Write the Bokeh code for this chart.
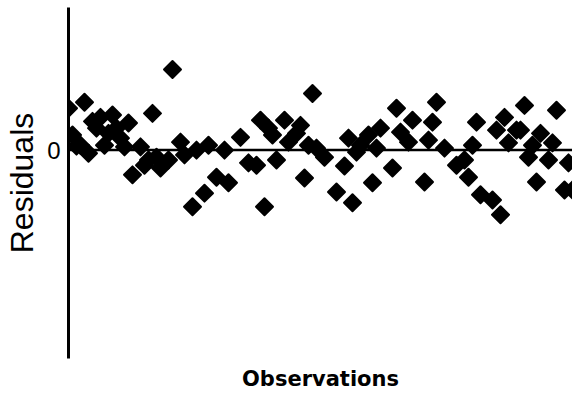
import math
from bokeh.plotting import figure
from bokeh.models import Span, FixedTicker, Range1d, ColumnDataSource
from bokeh.embed import file_html
from bokeh.resources import INLINE

observation = [1, 2, 3, 4, 5, 6, 7, 8, 9, 10, 11, 12, 13, 14, 15, 16, 17, 19, 20, 21, 22, 23,
               24, 26, 27, 29, 30, 32, 33, 35, 36, 38, 40, 41, 44, 46, 48, 49, 50, 51, 52, 53, 55,
               56, 58, 59, 60, 61, 62, 63, 65, 68, 70, 71, 72, 73, 74, 76, 77, 78, 79, 82, 83,
               84, 86, 87, 90, 91, 92, 93, 95, 98, 100, 101, 102, 103, 104, 107, 108, 109, 110, 111, 113,
               114, 115, 116, 117, 118, 119, 121, 122, 123, 125, 126, 127]
residual = [1.05, 0.38, 0.10, 0.12, 1.20, -0.08, 0.72, 0.55, 0.82, 0.12, 0.42, 0.88, 0.55, 0.30, 0.08, 0.68, -0.62, 0.08, -0.38, -0.25, 0.92, -0.18,
            -0.45, -0.25, 2.02, 0.20, -0.12, -1.42, 0.00, -1.08, 0.12, -0.68, 0.00, -0.82, 0.32, -0.32, -0.38, 0.75, -1.42, 0.55, 0.38, -0.25, 0.75,
            0.20, 0.42, 0.62, -0.70, 0.12, 1.42, 0.05, -0.18, -1.05, -0.40, 0.30, -1.32, -0.05, 0.12, 0.38, -0.82, 0.05, 0.55, -0.45, 1.05,
            0.45, 0.20, 0.75, -0.80, 0.25, 0.70, 1.20, 0.05, -0.38, -0.25, -0.68, 0.12, 0.70, -1.12, -1.25, 0.50, -1.62, 0.82, 0.18, 0.50,
            0.50, 1.12, -0.18, 0.12, -0.80, 0.42, -0.25, 0.18, 1.00, -1.00, -0.32, -1.00]
y_ticks = [0]
y_tick_labels = {0: "0"}
x_title = "Observations"
y_title = "Residuals"

src = ColumnDataSource(dict(x=observation, y=residual))

p = figure(width=572, height=393, output_backend="svg", toolbar_location=None,
           x_range=Range1d(1.0, 127.0), y_range=Range1d(-5.225, 3.575),
           min_border_left=68, min_border_right=0, min_border_top=7, min_border_bottom=34)
p.outline_line_color = None
p.xgrid.visible = False
p.ygrid.visible = False

xa = p.xaxis[0]
xa.ticker = FixedTicker(ticks=[])
xa.axis_line_color = None
xa.major_tick_line_color = None
xa.minor_tick_line_color = None
xa.major_tick_out = 0
xa.major_tick_in = 0
xa.major_label_standoff = 0
xa.axis_label = x_title
xa.axis_label_standoff = 8
xa.axis_label_text_font = "DejaVu Sans"
xa.axis_label_text_font_style = "bold"
xa.axis_label_text_font_size = "21px"
xa.axis_label_text_color = "black"

ya = p.yaxis[0]
ya.ticker = FixedTicker(ticks=y_ticks)
ya.major_label_overrides = y_tick_labels
ya.axis_line_width = 3
ya.axis_line_color = "black"
ya.major_tick_line_color = None
ya.minor_tick_line_color = None
ya.major_tick_out = 0
ya.major_tick_in = 0
ya.major_label_standoff = 8
ya.major_label_text_font = "Liberation Sans"
ya.major_label_text_font_size = "24px"
ya.major_label_text_color = "black"
ya.axis_label = y_title
ya.axis_label_standoff = 4
ya.axis_label_text_font = "Liberation Sans"
ya.axis_label_text_font_style = "normal"
ya.axis_label_text_font_size = "32px"
ya.axis_label_text_color = "black"

p.add_layout(Span(location=0, dimension="width", line_color="black", line_width=2.5))

p.scatter("x", "y", source=src, marker="square", angle=math.pi / 4, size=12,
          fill_color="black", line_color="black", line_width=2, line_join="round")

open("out.html", "w").write(file_html(p, INLINE))
